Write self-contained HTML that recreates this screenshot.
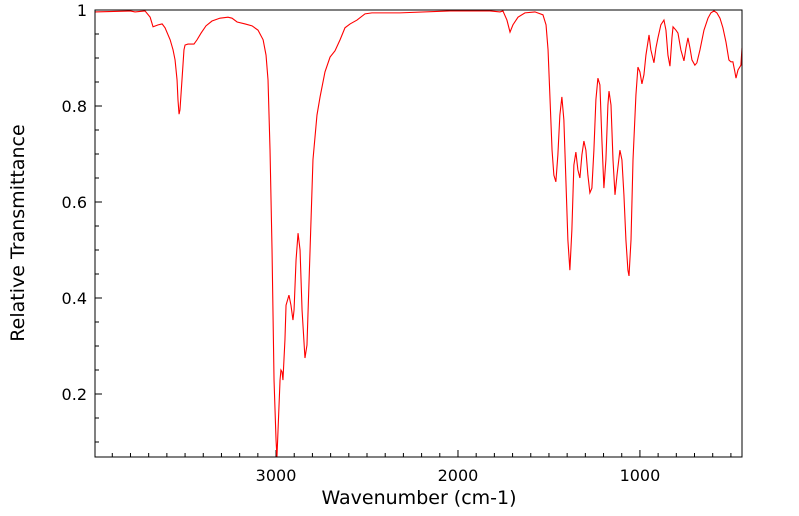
<!DOCTYPE html>
<html><head><meta charset="utf-8"><style>
html,body{margin:0;padding:0;background:#fff;}
svg{display:block;font-family:"DejaVu Sans","Liberation Sans",sans-serif;}
</style></head><body>
<svg id="chart" width="799" height="516" viewBox="0 0 799 516" xmlns="http://www.w3.org/2000/svg">
<g id="axes"></g>
<path id="spectrum" fill="none" stroke="#ff0000" stroke-width="1.1"/>
<rect x="95" y="10" width="647" height="447" fill="none" stroke="#000" stroke-width="1"/>
<text x="419" y="504" font-size="19" text-anchor="middle">Wavenumber (cm-1)</text>
<text transform="translate(24,233) rotate(-90)" font-size="19" text-anchor="middle">Relative Transmittance</text>
</svg>
<script>
const wavenumbers=[3995,3802,3775,3720,3692,3676,3648,3626,3610,3582,3566,3555,3544,3539,3533,3528,3517,3506,3500,3484,3451,3434,3412,3385,3352,3308,3264,3242,3214,3170,3132,3099,3071,3055,3044,3033,3022,3011,3000,2995,2989,2978,2973,2967,2962,2951,2945,2929,2918,2907,2901,2890,2879,2868,2857,2841,2830,2813,2797,2775,2758,2731,2703,2676,2648,2621,2593,2555,2511,2473,2319,2044,1824,1769,1753,1731,1714,1698,1670,1632,1577,1533,1516,1505,1494,1483,1473,1462,1451,1440,1429,1418,1407,1396,1385,1374,1363,1352,1341,1330,1319,1308,1297,1286,1275,1264,1253,1242,1231,1220,1209,1198,1187,1176,1170,1159,1148,1137,1126,1110,1099,1088,1077,1066,1060,1049,1038,1022,1011,1000,989,978,967,950,940,923,912,901,885,868,857,846,835,824,818,802,791,775,758,747,736,725,714,698,687,670,648,626,610,593,577,560,544,527,511,500,489,478,472,461,445,439];
const transmittance=[0.996,0.998,0.996,0.998,0.985,0.965,0.969,0.971,0.963,0.938,0.917,0.896,0.854,0.813,0.783,0.792,0.854,0.917,0.927,0.929,0.929,0.938,0.952,0.967,0.977,0.983,0.985,0.983,0.975,0.971,0.967,0.958,0.938,0.906,0.854,0.708,0.5,0.229,0.104,0.06,0.125,0.229,0.25,0.246,0.229,0.313,0.385,0.406,0.385,0.354,0.375,0.479,0.535,0.5,0.375,0.275,0.302,0.5,0.688,0.781,0.819,0.871,0.902,0.915,0.938,0.963,0.971,0.979,0.992,0.994,0.994,0.998,0.998,0.996,0.998,0.979,0.954,0.969,0.985,0.994,0.996,0.99,0.969,0.917,0.813,0.708,0.656,0.642,0.698,0.781,0.819,0.771,0.646,0.521,0.458,0.542,0.677,0.704,0.667,0.65,0.698,0.727,0.708,0.656,0.619,0.629,0.708,0.813,0.858,0.844,0.729,0.629,0.688,0.802,0.831,0.802,0.688,0.615,0.656,0.708,0.688,0.615,0.521,0.458,0.446,0.521,0.688,0.823,0.881,0.871,0.846,0.865,0.906,0.948,0.917,0.89,0.921,0.942,0.969,0.979,0.958,0.906,0.883,0.942,0.965,0.958,0.952,0.917,0.894,0.921,0.942,0.921,0.896,0.885,0.89,0.917,0.958,0.983,0.994,0.998,0.994,0.983,0.963,0.933,0.896,0.892,0.892,0.871,0.858,0.875,0.885,0.921];
const xTickLabels=[3000,2000,1000];
const yTickLabels=[0.2,0.4,0.6,0.8,1];

const X0=95,X1=742,Y0=10,Y1=457;
const xMax=3995,xMin=439,yTop=1,yBot=1-447/480;
function sx(w){return X0+(xMax-w)/(xMax-xMin)*(X1-X0);}
function sy(t){return Y0+(yTop-t)/(yTop-yBot)*(Y1-Y0);}
const NS="http://www.w3.org/2000/svg";
const axes=document.getElementById('axes');
function ln(x1,y1,x2,y2,name){const l=document.createElementNS(NS,'line');
l.setAttribute('x1',x1);l.setAttribute('y1',y1);l.setAttribute('x2',x2);l.setAttribute('y2',y2);
l.setAttribute('stroke','#000');l.setAttribute('stroke-width','1');


axes.appendChild(l);}
for(let w=3900;w>xMin;w-=100){const x=sx(w);const major=(w%1000===0);ln(x,Y1,x,Y1-(major?7:4),major?'x-major-tick':'x-minor-tick');}
for(let i=1;i<=20;i++){const t=i*0.05;if(t<yBot)continue;const y=sy(t);const major=(Math.round(t*100)%20===0);ln(X0,y,X0+(major?7:4),y,major?'y-major-tick':'y-minor-tick');}
xTickLabels.forEach(v=>{const t=document.createElementNS(NS,'text');
t.setAttribute('x',sx(v));t.setAttribute('y',481);t.setAttribute('font-size','16');t.setAttribute('text-anchor','middle');


t.textContent=v;axes.appendChild(t);});
yTickLabels.forEach(v=>{const t=document.createElementNS(NS,'text');
t.setAttribute('x',87);t.setAttribute('y',sy(v)+6);t.setAttribute('font-size','16');t.setAttribute('text-anchor','end');


t.textContent=v;axes.appendChild(t);});
let d='';
wavenumbers.forEach((w,i)=>{let y=Math.min(sy(transmittance[i]),Y1);d+=(i?'L':'M')+sx(w).toFixed(2)+','+y.toFixed(2);});
document.getElementById('spectrum').setAttribute('d',d);
</script>
</body></html>
